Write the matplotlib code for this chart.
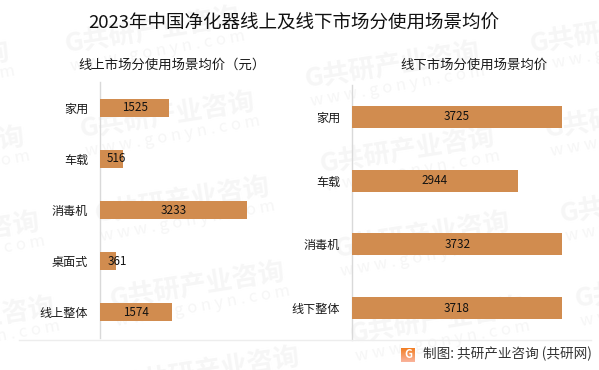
import matplotlib
matplotlib.use("Agg")
import matplotlib.pyplot as plt
import numpy as np
from matplotlib.lines import Line2D

plt.rcParams['font.family'] = ['Noto Sans CJK SC', 'DejaVu Sans']

W, H = 599, 370

online_labels = ['家用', '车载', '消毒机', '桌面式', '线上整体']
online_values = [1525, 516, 3233, 361, 1574]
offline_labels = ['家用', '车载', '消毒机', '线下整体']
offline_values = [3725, 2944, 3732, 3718]

title = '2023年中国净化器线上及线下市场分使用场景均价'
online_title = '线上市场分使用场景均价（元）'
offline_title = '线下市场分使用场景均价'
source = '制图: 共研产业咨询 (共研网)'

BAR_COLOR = '#D18C4F'
AXIS_COLOR = '#D9D9D9'
TEXT_COLOR = '#1A1A1A'
MARK_COLOR = '#F6F6F6'


# pixel box (from the top left corner) to figure fraction
def px_axes(fig, left, top, width, height):
    return fig.add_axes([left / W, 1 - (top + height) / H, width / W, height / H])


def px_text(fig, x, y, s, **kw):
    return fig.text(x / W, 1 - y / H, s, **kw)


def draw_bars(ax, labels, values, xmax, bar_height, min_label_x):
    pos = range(len(values))
    ax.barh(pos, values, height=bar_height, color=BAR_COLOR, zorder=3)
    ax.set_xlim(0, xmax)
    ax.set_ylim(len(values) - 0.5, -0.5)
    ax.set_yticks(list(pos))
    ax.set_yticklabels(labels, fontsize=8.7, color=TEXT_COLOR)
    ax.tick_params(axis='y', length=0, pad=8.5)
    ax.set_xticks([])
    for side in ['top', 'right', 'bottom']:
        ax.spines[side].set_visible(False)
    ax.spines['left'].set_color(AXIS_COLOR)
    ax.spines['left'].set_linewidth(1)
    ax.patch.set_alpha(0)
    for p, v in zip(pos, values):
        ax.text(max(v / 2, min_label_x), p, str(v), ha='center', va='center',
                fontsize=8.4, color='#111111', zorder=4)


# the site's watermark, repeated over the whole picture
def draw_watermark(fig):
    for col_x, col_y in [(-165, 80), (65, 45), (305, 80), (530, 45)]:
        for i in range(5):
            x = col_x + 15 * i
            y = col_y + 85 * i
            px_text(fig, x, y, 'G共研产业咨询', fontsize=19, fontweight='bold',
                    color=MARK_COLOR, rotation=9, rotation_mode='anchor',
                    ha='left', va='center', zorder=-1)
            px_text(fig, x + 6, y + 22, 'w w w . g o n y n . c o m', fontsize=12,
                    color=MARK_COLOR, rotation=10, rotation_mode='anchor',
                    ha='left', va='center', zorder=-1)


fig = plt.figure(figsize=(W / 100, H / 100), dpi=100, facecolor='white')
draw_watermark(fig)

ax1 = px_axes(fig, 100, 82, 200, 256)
draw_bars(ax1, online_labels, online_values, 200 * 3233 / 147, 0.35, 370)

ax2 = px_axes(fig, 352, 85, 210, 255)
draw_bars(ax2, offline_labels, offline_values, 3725, 0.345, 0)

px_text(fig, 293.5, 23, title, fontsize=13.35, color='#111111', ha='center', va='center')
px_text(fig, 78, 65, online_title, fontsize=9.6, color=TEXT_COLOR, ha='left', va='center')
px_text(fig, 474, 65, offline_title, fontsize=9.6, color=TEXT_COLOR, ha='center', va='center')

# footer rule, logo and source
fig.add_artist(Line2D([19 / W, 591 / W], [1 - 340 / H] * 2, color='#EDEDED', lw=1))
logo = px_axes(fig, 401, 348, 14, 14)
shade = np.linspace(0, 1, 14)[:, None, None]
logo.imshow(np.array([[[0.95, 0.50, 0.15]]]) * (1 - shade) + np.array([[[0.98, 0.70, 0.60]]]) * shade,
            aspect='auto')
logo.axis('off')
px_text(fig, 408, 355, 'G', fontsize=8, fontweight='bold', color='white', ha='center', va='center')
px_text(fig, 423, 354, source, fontsize=9.8, color='#333333', ha='left', va='center')

fig.savefig('out.png', dpi=100)
